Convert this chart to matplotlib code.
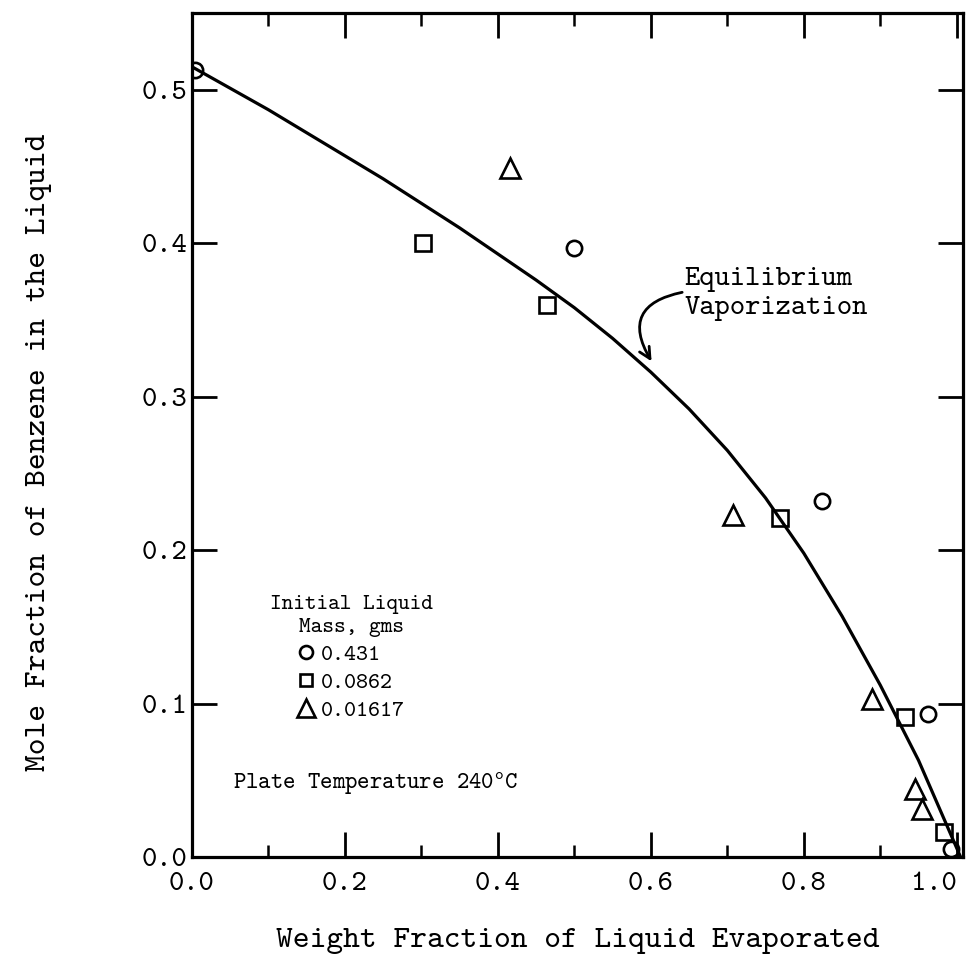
import numpy as np
import matplotlib
matplotlib.use("Agg")
import matplotlib.pyplot as plt

# data
# initial liquid mass 0.431 g (circles)
x_circ = [0.004, 0.499, 0.824, 0.963, 0.992]
y_circ = [0.513, 0.397, 0.232, 0.093, 0.005]
# initial liquid mass 0.0862 g (squares)
x_sq = [0.302, 0.464, 0.769, 0.932, 0.983]
y_sq = [0.400, 0.360, 0.221, 0.091, 0.016]
# initial liquid mass 0.01617 g (triangles)
x_tri = [0.416, 0.707, 0.889, 0.945, 0.954]
y_tri = [0.449, 0.223, 0.103, 0.044, 0.031]

# equilibrium vaporization curve
x_eq = [0.0, 0.05, 0.1, 0.15, 0.2, 0.25, 0.3, 0.35, 0.4, 0.45, 0.5,
        0.55, 0.6, 0.65, 0.7, 0.75, 0.8, 0.85, 0.9, 0.95, 1.005]
y_eq = [0.515, 0.501, 0.487, 0.472, 0.457, 0.442, 0.426, 0.410, 0.393,
        0.376, 0.358, 0.338, 0.316, 0.292, 0.265, 0.234, 0.198, 0.157,
        0.112, 0.063, 0.0]

mass_labels = ["0.431", "0.0862", "0.01617"]
xticks = [0.0, 0.2, 0.4, 0.6, 0.8, 1.0]
yticks = [0.0, 0.1, 0.2, 0.3, 0.4, 0.5]

plt.rcParams["font.family"] = "cmtt10"
plt.rcParams["mathtext.fontset"] = "cm"
plt.rcParams["axes.unicode_minus"] = False


def main():
    fig = plt.figure(figsize=(9.69, 9.72), dpi=100)
    ax = fig.add_axes([0.198, 0.1183, 0.7957, 0.8683])

    ax.plot(x_eq, y_eq, color="black", lw=2.3)
    mk = dict(linestyle="none", mfc="none", mec="black", mew=1.9)
    h1, = ax.plot(x_circ, y_circ, marker="o", ms=11, label=mass_labels[0], **mk)
    h2, = ax.plot(x_sq, y_sq, marker="s", ms=11, label=mass_labels[1], **mk)
    h3, = ax.plot(x_tri, y_tri, marker="^", ms=15, label=mass_labels[2], **mk)

    ax.set_xlim(0, 1.008)
    ax.set_ylim(0, 0.55)
    ax.set_xticks(xticks)
    ax.set_xticklabels(["%.1f" % v for v in xticks])
    ax.set_yticks(yticks)
    ax.set_yticklabels(["%.1f" % v for v in yticks])
    ax.set_xticks(np.arange(0.1, 1.0, 0.2), minor=True)

    ax.tick_params(which="major", direction="in", length=18, width=2,
                   top=True, right=True, labelsize=21)
    ax.tick_params(axis="x", which="major", pad=11)
    ax.tick_params(axis="y", which="major", pad=3)
    ax.tick_params(axis="x", which="minor", direction="in", length=9,
                   width=1.8, top=True)
    ax.get_xticklabels()[-1].set_horizontalalignment("right")
    for s in ax.spines.values():
        s.set_linewidth(2.3)

    ax.set_xlabel("Weight Fraction of Liquid Evaporated", fontsize=23,
                  labelpad=22)
    ax.set_ylabel("Mole Fraction of Benzene in the Liquid", fontsize=23)
    ax.yaxis.set_label_coords(-0.181, 0.48)

    leg = ax.legend(handles=[h1, h2, h3], title="Initial Liquid\nMass, gms",
                    loc="upper left", bbox_to_anchor=(0.08, 0.33),
                    frameon=False, fontsize=16.5, title_fontsize=16,
                    handlelength=0.8, handletextpad=0.25, labelspacing=0.3,
                    borderpad=0.2, markerscale=0.85)
    leg.get_title().set_multialignment("center")
    leg.get_title().set_linespacing(1.35)

    ax.text(0.054, 0.048, r"Plate Temperature 240$^{\mathtt{o}}$C",
            fontsize=17, va="center", ha="left")

    ax.text(0.644, 0.367, "Equilibrium\nVaporization", fontsize=21,
            ha="left", va="center")
    ax.annotate("", xy=(0.601, 0.323), xytext=(0.641, 0.368),
                arrowprops=dict(arrowstyle="->", color="black", lw=2,
                                connectionstyle="arc3,rad=0.7",
                                shrinkA=0, shrinkB=0, mutation_scale=20))

    fig.savefig("out.png", dpi=100)


if __name__ == "__main__":
    main()
